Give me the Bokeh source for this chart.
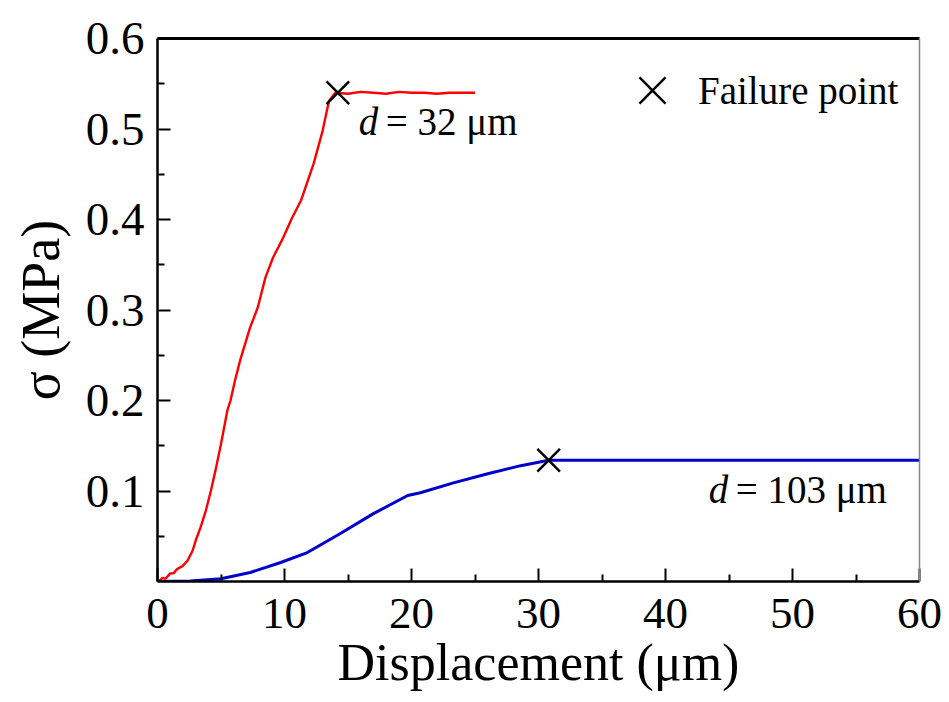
from bokeh.plotting import figure
from bokeh.models import (Range1d, FixedTicker, LinearAxis, Legend, LegendItem,
                          ColumnDataSource)
from bokeh.core.properties import value
from bokeh.embed import file_html
from bokeh.resources import INLINE

# ---- data ----
red_x = [0.0, 0.08, 0.4, 0.63, 1.0, 1.26, 1.57, 1.97, 2.36, 2.76, 3.0, 3.4, 3.8,
         4.2, 4.6, 5.0, 5.5, 5.75, 6.1, 6.5, 7.3, 7.9, 8.5, 9.1, 9.9, 10.6,
         11.3, 12.3, 13.0, 13.5, 14.0, 15, 16, 17, 18, 19, 20, 21, 22, 23, 24, 25]
red_y = [0.0, 0.0, 0.004, 0.003, 0.009, 0.009, 0.014, 0.017, 0.023, 0.034, 0.045,
         0.06, 0.078, 0.10, 0.125, 0.152, 0.189, 0.20, 0.222, 0.244, 0.281,
         0.303, 0.336, 0.358, 0.380, 0.402, 0.421, 0.462, 0.498, 0.531, 0.540,
         0.539, 0.541, 0.540, 0.539, 0.541, 0.540, 0.540, 0.539, 0.540, 0.540, 0.540]

blue_x = [0.0, 2.6, 5.0, 7.3, 9.7, 11.8, 14.4, 17.0, 19.7, 20.7, 23.3, 26.0,
          28.6, 30.8, 40, 50, 60]
blue_y = [0.0, 0.0005, 0.003, 0.010, 0.021, 0.032, 0.053, 0.075, 0.095, 0.098,
          0.109, 0.119, 0.128, 0.134, 0.134, 0.134, 0.134]

fail_x = [14.2, 30.8]
fail_y = [0.540, 0.134]
diam_labels = ["= 32 \u03bcm", "= 103 \u03bcm"]

x_ticks = [0, 10, 20, 30, 40, 50, 60]
x_minor = [5, 15, 25, 35, 45, 55]
y_ticks = [0.1, 0.2, 0.3, 0.4, 0.5, 0.6]
y_minor = [0.05, 0.15, 0.25, 0.35, 0.45, 0.55]

FONT = "Liberation Serif"

p = figure(width=945, height=700, output_backend="svg", toolbar_location=None,
           x_range=Range1d(0, 60), y_range=Range1d(0, 0.6),
           min_border_left=157, min_border_right=26, min_border_top=38,
           min_border_bottom=119, background_fill_color="white",
           border_fill_color="white", outline_line_color=None)
p.xgrid.grid_line_color = None
p.ygrid.grid_line_color = None

p.line(red_x, red_y, line_color="#ff0000", line_width=2.4)
p.line(blue_x, blue_y, line_color="#0000cc", line_width=3)
fails = p.scatter(fail_x, fail_y, marker="x", size=32, line_color="black",
                  line_width=2.5)

src = ColumnDataSource(dict(x=fail_x, y=fail_y, d=["d", "d"], lab=diam_labels,
                            dx=[21, 160], dx2=[48, 187]))
p.text(x="x", y="y", text="d", source=src, x_offset="dx", y_offset=29,
       text_font=value(FONT), text_font_style="italic", text_font_size="39px",
       text_align="left", text_baseline="middle", text_color="black")
p.text(x="x", y="y", text="lab", source=src, x_offset="dx2", y_offset=29,
       text_font=value(FONT), text_font_size="39px",
       text_align="left", text_baseline="middle", text_color="black")

# axes styling
for ax, ticks, minor in ((p.xaxis[0], x_ticks, x_minor), (p.yaxis[0], y_ticks, y_minor)):
    ax.ticker = FixedTicker(ticks=ticks, minor_ticks=minor)
    ax.major_tick_in = 13
    ax.major_tick_out = 0
    ax.minor_tick_in = 7
    ax.minor_tick_out = 0
    ax.axis_line_width = 2.5
    ax.major_tick_line_width = 2
    ax.minor_tick_line_width = 2
    ax.axis_line_color = "black"
    ax.major_label_text_font = FONT
    ax.axis_label_text_font = FONT
    ax.axis_label_text_font_style = "normal"
    ax.major_label_text_color = "black"
    ax.axis_label_text_color = "black"

p.xaxis.axis_label = "Displacement (\u03bcm)"
p.xaxis.major_label_text_font_size = "45px"
p.xaxis.axis_label_text_font_size = "52px"
p.xaxis.major_label_standoff = 17
p.xaxis.axis_label_standoff = 3

p.yaxis.axis_label = "\u03c3 (MPa)"
p.yaxis.major_label_text_font_size = "47px"
p.yaxis.axis_label_text_font_size = "54px"
p.yaxis.major_label_standoff = 13
p.yaxis.axis_label_standoff = 12

top = LinearAxis(ticker=FixedTicker(ticks=[]), major_tick_in=0, major_tick_out=0,
                 minor_tick_in=0, minor_tick_out=0, axis_line_width=3,
                 axis_line_color="black", major_label_text_font_size="0px")
right = LinearAxis(ticker=FixedTicker(ticks=[]), major_tick_in=0, major_tick_out=0,
                   minor_tick_in=0, minor_tick_out=0, axis_line_width=1.5,
                   axis_line_color="#888888", major_label_text_font_size="0px")
p.add_layout(top, "above")
p.add_layout(right, "right")

legend = Legend(items=[LegendItem(label="Failure point", renderers=[fails])],
                location=(449, 445), border_line_color=None,
                background_fill_alpha=0, label_text_font=FONT,
                label_text_color="black",
                label_text_font_size="39px", glyph_width=92, glyph_height=92,
                label_standoff=0, padding=0, margin=0)
p.add_layout(legend)

open("out.html", "w").write(file_html(p, INLINE))
